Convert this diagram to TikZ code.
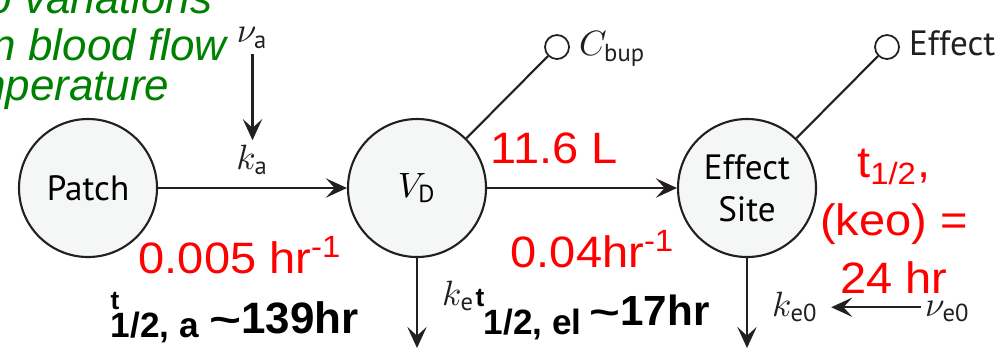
\documentclass[tikz,border=0pt]{standalone}
\usepackage{fontspec}
\setsansfont{PT Sans}
\newfontfamily\annofont{Liberation Sans}
\newfontfamily\redfont[FakeStretch=1.07]{Liberation Sans}
\usetikzlibrary{arrows.meta, positioning}
\definecolor{inkgray}{RGB}{35,31,32}
\definecolor{cellfill}{RGB}{245,247,246}
\definecolor{notered}{RGB}{255,0,0}
\definecolor{notegreen}{RGB}{0,128,0}

\begin{document}
\begin{tikzpicture}[
  font=\sffamily,
  comp/.style={circle, draw=inkgray, line width=0.6pt, fill=cellfill,
               minimum size=13.8mm, inner sep=0pt, align=center},
  port/.style={circle, draw=inkgray, line width=0.5pt, fill=white,
               minimum size=2.4mm, inner sep=0pt},
  ar/.style={-{Stealth[length=6pt, width=5.5pt, inset=2.5pt]}, line width=0.6pt, draw=inkgray},
  ln/.style={line width=0.6pt, draw=inkgray},
  sym/.style={inner sep=1pt, text=inkgray, text height=7pt, text depth=2pt},
  rednote/.style={font=\redfont\fontsize{12.5}{16.5}\selectfont, text=notered, inner sep=0pt},
  blacknote/.style={font=\annofont\bfseries, inner sep=0pt, anchor=base west},
  greennote/.style={font=\annofont\itshape\fontsize{12.5}{15}\selectfont, text=notegreen,
                    inner sep=0pt, anchor=base east},
]
\useasboundingbox (0,0) rectangle (10.03,3.51);
\clip (0,0) rectangle (10.03,3.51);

% compartments
\node[comp] (patch) at (0.88,1.63) {Patch};
\node[comp] (vd) at (4.17,1.63) {$V_{\mathsf{D}}$};
\node[comp] (site) at (7.47,1.63) {Effect\\Site};

% observed outputs
\node[port] (cbup) at (5.57,3.04) {};
\node[port] (effo) at (8.87,3.04) {};
\node[sym, right=0.5mm of cbup] (cbuplbl) {$C_{\mathsf{bup}}$};
\node[sym, right=0.5mm of effo] (efflbl) {Effect};
\draw[ln] (vd) -- (cbup);
\draw[ln] (site) -- (effo);

% rates
\draw[ar] (patch) -- node[sym, above=2pt] (ka) {$k_{\mathsf{a}}$} (vd);
\node[sym, above=8.6mm of ka] (va) {$\nu_{\mathsf{a}}$};
\draw[ar] (va) -- (ka);
\draw[ar] (vd) -- (site);

\coordinate (vdout) at (4.17,0.03);
\coordinate (siteout) at (7.47,0.03);
\draw[ar] (vd) -- (vdout);
\draw[ar] (site) -- (siteout);

\node[sym, anchor=base west] (ke) at (4.38,0.46) {$k_{\mathsf{e}}$};
\node[sym, anchor=base west] (ke0) at (7.68,0.35) {$k_{\mathsf{e0}}$};
\node[sym, anchor=base west] (ve0) at (9.21,0.35) {$\nu_{\mathsf{e0}}$};
\draw[ar, shorten >=2.5pt] (ve0) -- (ke0);

% notes
\node[rednote, anchor=base west] (vol) at (4.90,1.88) {11.6 L};
\node[rednote, anchor=base west] (karate) at (1.38,0.78) {0.005 hr\textsuperscript{-1}};
\node[rednote, anchor=base west] (kerate) at (5.10,0.84) {0.04hr\textsuperscript{-1}};
\node[rednote, align=center] (keohalf) at (8.94,1.30) {t\textsubscript{1/2},\\(keo) =\\24 hr};

\node[blacknote] (tha) at (1.10,0.18) {\fontsize{12.5}{15}\selectfont
  \rlap{\raisebox{6.6pt}{\fontsize{7.5}{9}\selectfont t}}%
  \raisebox{-1.4pt}{\fontsize{10}{12}\selectfont 1/2, a}\kern3pt
  \scalebox{1.25}[0.9]{\textasciitilde}139hr};
\node[blacknote] (thel) at (4.75,0.26) {\fontsize{12}{14}\selectfont
  \rlap{\raisebox{5.2pt}{\fontsize{7.5}{9}\selectfont t}}\kern2.3pt%
  \raisebox{-2.8pt}{\fontsize{10}{12}\selectfont 1/2, el}\kern2.3pt
  \scalebox{1.25}[0.9]{\textasciitilde}17hr};

\node[greennote] (grn1) at (2.13,3.38) {to variations};
\node[greennote] (grn2) at (2.27,2.91) {in blood flow};
\node[greennote] (grn3) at (1.70,2.51) {temperature};
\end{tikzpicture}
\end{document}
